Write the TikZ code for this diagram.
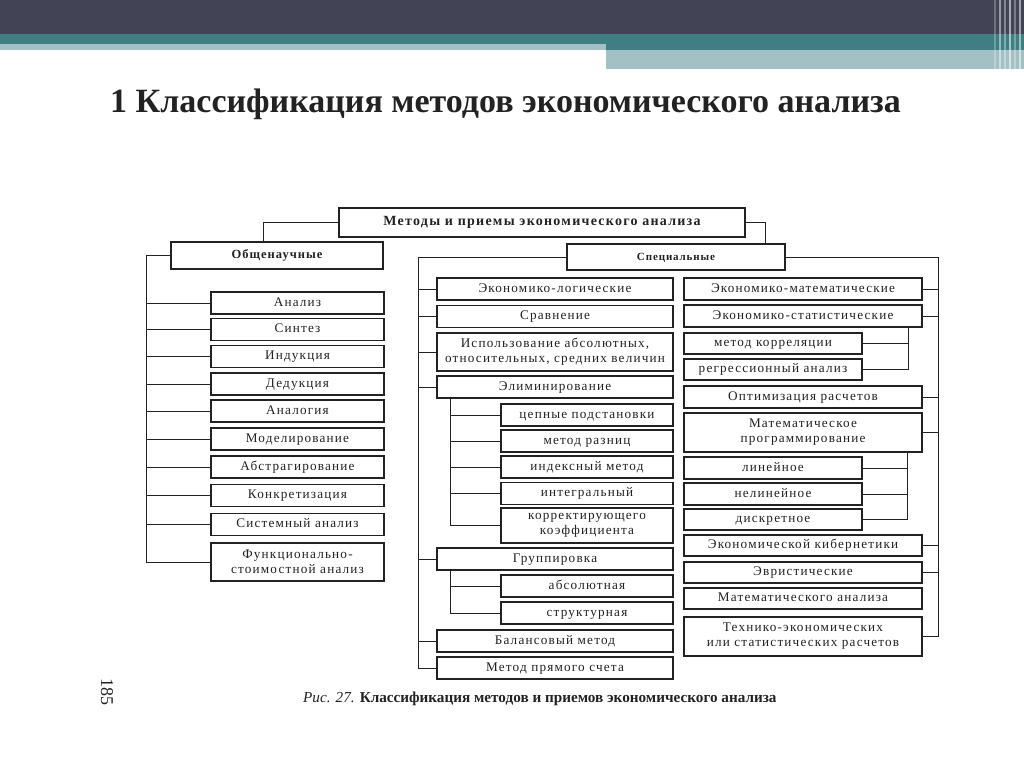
\documentclass[tikz,border=0pt]{standalone}
\usepackage{fontspec}
\setmainfont{Liberation Serif}
\newfontfamily\spaced[LetterSpace=9]{Liberation Serif}
\newfontfamily\headspaced[LetterSpace=8]{Liberation Serif}
\usepackage{tikz}
\usetikzlibrary{positioning,calc}

\definecolor{bardark}{HTML}{424455}
\definecolor{barteal}{HTML}{3F7F84}
\definecolor{barlight}{HTML}{A3C1C4}
\definecolor{ink}{HTML}{222222}

\begin{document}
\begin{tikzpicture}[x=1pt,y=-1pt,
  box/.style={draw=ink, line width=1.1pt, fill=white, inner sep=1pt, align=center,
    text=ink, text height=9pt, text depth=2.5pt, font=\fontsize{13.2}{15}\selectfont\spaced},
  tallbox/.style={box, text height=, text depth=},
  headbox/.style={box, font=\fontsize{12.5}{14}\selectfont\bfseries\headspaced},
  link/.style={draw=ink, line width=1pt}]

\useasboundingbox (0,0) rectangle (1024,768);

% top bar of the slide
\fill[bardark] (0,0) rectangle (1024,34);
\fill[barteal] (0,34) rectangle (1024,44);
\fill[barteal] (606,44) rectangle (1024,50);
\fill[barlight] (0,44) rectangle (606,50);
\fill[barlight] (606,50) rectangle (1024,69);
\foreach \x/\o in {994/0.25,999/0.45,1004/0.35,1009/0.55,1014/0.3,1019/0.5}
  \fill[white, opacity=\o] (\x,0) rectangle (\x+2,69);

% title
\node[anchor=base west, font=\fontsize{34}{40}\selectfont\bfseries, text=ink, inner sep=0pt]
  (title) at (110,112) {1 Классификация методов экономического анализа};

% heads
\node[box, minimum width=406, minimum height=29,
  font=\fontsize{14}{16}\selectfont\bfseries\spaced] (top) at (542,222.5) {Методы и приемы экономического анализа};
\node[headbox, minimum width=212, minimum height=27] (gen) at (277,255.5) {Общенаучные};
\node[headbox, minimum width=218, minimum height=26,
  font=\fontsize{11}{13}\selectfont\bfseries\headspaced] (spec) at (676,257) {Специальные};

% general methods
\node[box, minimum width=173, minimum height=22] (an) at (297.5,303) {Анализ};
\node[box, minimum width=173, minimum height=22] (syn) at (297.5,329.5) {Синтез};
\node[box, minimum width=173, minimum height=22] (ind) at (297.5,356.5) {Индукция};
\node[box, minimum width=173, minimum height=22] (ded) at (297.5,384) {Дедукция};
\node[box, minimum width=173, minimum height=22] (analog) at (297.5,411) {Аналогия};
\node[box, minimum width=173, minimum height=22] (model) at (297.5,439) {Моделирование};
\node[box, minimum width=173, minimum height=22] (abstr) at (297.5,467) {Абстрагирование};
\node[box, minimum width=173, minimum height=22] (konkr) at (297.5,495.5) {Конкретизация};
\node[box, minimum width=173, minimum height=22] (sys) at (297.5,524.5) {Системный анализ};
\node[tallbox, minimum width=173, minimum height=38] (fsa) at (297.5,562) {Функционально-\\стоимостной анализ};

% special methods, left part
\node[box, minimum width=236, minimum height=22] (elog) at (555,289) {Экономико-логические};
\node[box, minimum width=236, minimum height=22] (srav) at (555,316.5) {Сравнение};
\node[tallbox, minimum width=236, minimum height=38] (isp) at (555,352) {Использование абсолютных,\\относительных, средних величин};
\node[box, minimum width=236, minimum height=22] (elim) at (555,387) {Элиминирование};
\node[box, minimum width=172, minimum height=22] (cep) at (587,415) {цепные подстановки};
\node[box, minimum width=172, minimum height=22] (raz) at (587,441) {метод разниц};
\node[box, minimum width=172, minimum height=22] (idx) at (587,467) {индексный метод};
\node[box, minimum width=172, minimum height=22] (integ) at (587,493.5) {интегральный};
\node[tallbox, minimum width=172, minimum height=35] (korr) at (587,525.5) {корректирующего\\коэффициента};
\node[box, minimum width=236, minimum height=22] (grp) at (555,559) {Группировка};
\node[box, minimum width=172, minimum height=22] (abs) at (587,586) {абсолютная};
\node[box, minimum width=172, minimum height=22] (str) at (587,613) {структурная};
\node[box, minimum width=236, minimum height=22] (bal) at (555,641) {Балансовый метод};
\node[box, minimum width=236, minimum height=22] (prs) at (555,668) {Метод прямого счета};

% special methods, right part
\node[box, minimum width=238, minimum height=22] (emat) at (803,289) {Экономико-математические};
\node[box, minimum width=238, minimum height=22] (estat) at (803,316) {Экономико-статистические};
\node[box, minimum width=178, minimum height=21] (korrel) at (773,343.5) {метод корреляции};
\node[box, minimum width=178, minimum height=21] (regr) at (773,369.5) {регрессионный анализ};
\node[box, minimum width=238, minimum height=22] (opt) at (803,397) {Оптимизация расчетов};
\node[tallbox, minimum width=238, minimum height=39] (mprog) at (803,432.5) {Математическое\\программирование};
\node[box, minimum width=178, minimum height=22] (lin) at (773,468) {линейное};
\node[box, minimum width=178, minimum height=22] (nelin) at (773,494) {нелинейное};
\node[box, minimum width=178, minimum height=21] (diskr) at (773,519.5) {дискретное};
\node[box, minimum width=238, minimum height=21] (ekib) at (803,545.5) {Экономической кибернетики};
\node[box, minimum width=238, minimum height=21] (evr) at (803,572.5) {Эвристические};
\node[box, minimum width=238, minimum height=21] (man) at (803,598.5) {Математического анализа};
\node[tallbox, minimum width=238, minimum height=39] (tech) at (803,636.5) {Технико-экономических\\или статистических расчетов};

% bus positions
\coordinate (kL) at (263,0);
\coordinate (kR) at (765,0);
\coordinate (busL) at (146,0);
\coordinate (busM) at (418,0);
\coordinate (subM) at (450,0);
\coordinate (busR) at (938,0);
\coordinate (subS) at (908,0);
\coordinate (subP) at (907,0);

% connectors
\draw[link] (top.west) -| (kL |- gen.north);
\draw[link] (top.east) -| (kR |- spec.north);

\draw[link] (gen.west) -| (busL |- fsa.west) -- (fsa.west);
\foreach \n in {an,syn,ind,ded,analog,model,abstr,konkr,sys}
  \draw[link] (\n.west) -- (\n.west -| busL);

\draw[link] (spec.west) -| (busM |- prs.west) -- (prs.west);
\foreach \n in {elog,srav,isp,elim,grp,bal}
  \draw[link] (\n.west) -- (\n.west -| busM);

\draw[link] (subM |- elim.south) |- (korr.west);
\foreach \n in {cep,raz,idx,integ}
  \draw[link] (\n.west) -- (\n.west -| subM);
\draw[link] (subM |- grp.south) |- (str.west);
\draw[link] (abs.west) -- (abs.west -| subM);

\draw[link] (spec.east) -| (busR |- tech.east) -- (tech.east);
\foreach \n in {emat,estat,opt,mprog,ekib,evr}
  \draw[link] (\n.east) -- (\n.east -| busR);

\draw[link] (subS |- estat.south) |- (regr.east);
\draw[link] (korrel.east) -- (korrel.east -| subS);
\draw[link] (subP |- mprog.south) |- (diskr.east);
\foreach \n in {lin,nelin}
  \draw[link] (\n.east) -- (\n.east -| subP);

% caption and page number
\node[anchor=base west, inner sep=0pt, text=ink, font=\fontsize{15.2}{18}\selectfont]
  (caption) at (303,702) {\textit{Рис. 27.} \textbf{Классификация методов и приемов экономического анализа}};
\node[rotate=-90, inner sep=0pt, text=ink, font=\fontsize{18}{20}\selectfont] (page) at (107,692) {185};

\end{tikzpicture}
\end{document}
